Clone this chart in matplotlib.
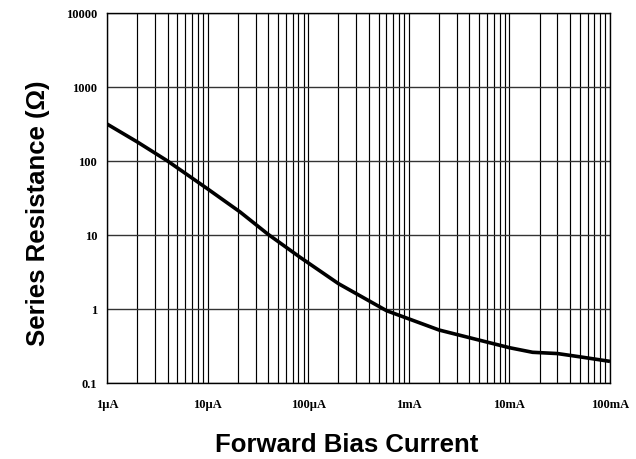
import matplotlib
matplotlib.use("Agg")
import matplotlib.pyplot as plt
from matplotlib.ticker import FixedLocator, NullFormatter, LogLocator

# Data
current_A = [1e-6, 2e-6, 4e-6, 1e-5, 2.1e-5, 4e-5, 8.3e-5, 2e-4, 6e-4,
             2e-3, 4e-3, 1e-2, 1.7e-2, 3e-2, 5e-2, 1e-1]
resistance_ohm = [316, 181, 100, 42, 20.5, 10.2, 5.0, 2.2, 0.95,
                  0.52, 0.41, 0.30, 0.26, 0.25, 0.226, 0.196]

x_ticks = [1e-6, 1e-5, 1e-4, 1e-3, 1e-2, 1e-1]
x_tick_labels = ["1µA", "10µA", "100µA", "1mA", "10mA", "100mA"]
y_ticks = [0.1, 1, 10, 100, 1000, 10000]
y_tick_labels = ["0.1", "1", "10", "100", "1000", "10000"]

fig = plt.figure(figsize=(6.36, 4.60), dpi=100)
ax = fig.add_axes([107/636, 1-384/460, (610-107)/636, (384-14)/460])

ax.set_xscale("log")
ax.set_yscale("log")
ax.set_xlim(1e-6, 1e-1)
ax.set_ylim(0.1, 10000)

# Grid: vertical at all log minor positions, horizontal at decades only
ax.xaxis.set_major_locator(FixedLocator(x_ticks))
ax.xaxis.set_minor_locator(LogLocator(base=10, subs=range(2, 10), numticks=50))
ax.xaxis.set_minor_formatter(NullFormatter())
ax.yaxis.set_major_locator(FixedLocator(y_ticks))
ax.yaxis.set_minor_locator(FixedLocator([]))

ax.grid(True, which="major", axis="x", color="black", lw=0.85)
ax.grid(True, which="minor", axis="x", color="black", lw=0.85)
ax.grid(True, which="major", axis="y", color="#333333", lw=1.0)
ax.set_axisbelow(True)

ax.plot(current_A, resistance_ohm, color="black", lw=2.6,
        solid_joinstyle="round", solid_capstyle="butt")

tick_font = dict(family="Liberation Serif", weight="bold", size=9)
ax.set_xticklabels(x_tick_labels, **tick_font)
ax.set_yticklabels(y_tick_labels, **tick_font)
ax.tick_params(axis="both", which="both", length=0)
ax.tick_params(axis="x", pad=11)
ax.tick_params(axis="y", pad=7)

for s in ax.spines.values():
    s.set_color("black")
    s.set_linewidth(1.0)

label_font = dict(family="Liberation Sans", weight="bold", size=18.5)
fig.text(347/636, 1-445/460, "Forward Bias Current", ha="center", va="center", **label_font)
fig.text(38/636, 1-213/460, "Series Resistance (Ω)", ha="center", va="center",
         rotation=90, **label_font)

fig.savefig("out.png", dpi=100)
